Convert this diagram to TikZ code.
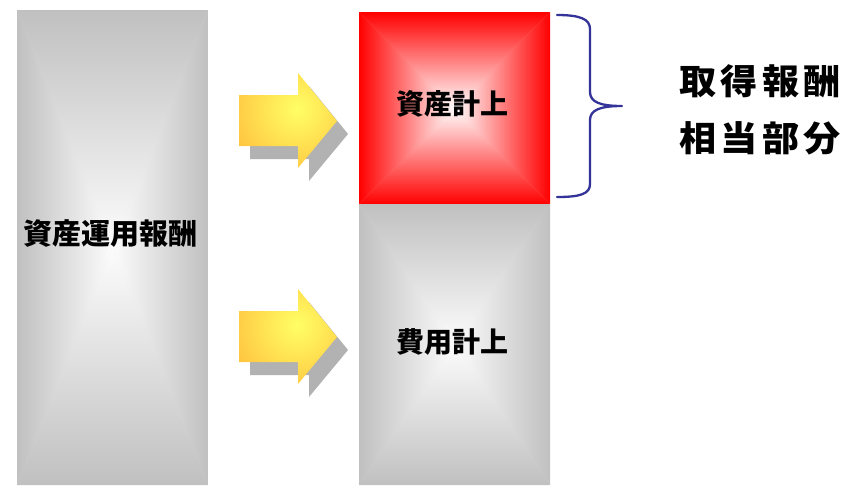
\documentclass[tikz,border=0pt]{standalone}
\usepackage{fontspec}
\newfontfamily\cjk{Noto Sans CJK JP}
\definecolor{edgegray}{RGB}{192,192,192}
\definecolor{centerwhite}{RGB}{252,252,252}
\definecolor{boxred}{RGB}{255,0,0}
\definecolor{arrowyel}{RGB}{255,255,100}
\definecolor{arroworg}{RGB}{255,140,30}
\definecolor{shadowgray}{RGB}{178,178,178}
\definecolor{bracecol}{RGB}{51,51,153}
\newcommand\rectgrad[6]{%
  \pgfmathsetmacro\gcx{(#1+#3)/2}%
  \pgfmathsetmacro\gcy{(#2+#4)/2}%
  \fill[#5!50!#6] (#1,#2) rectangle (#3,#4);
  \shade[top color=#5,bottom color=#6] (#1,#2)--(#3,#2)--(\gcx,\gcy)--cycle;
  \shade[bottom color=#5,top color=#6] (#1,#4)--(#3,#4)--(\gcx,\gcy)--cycle;
  \shade[left color=#5,right color=#6] (#1,#2)--(#1,#4)--(\gcx,\gcy)--cycle;
  \shade[right color=#5,left color=#6] (#3,#2)--(#3,#4)--(\gcx,\gcy)--cycle;
}
\newcommand\arrowshape{(0,22)--(59,22)--(59,0)--(98,48)--(59,95)--(59,73)--(0,73)--cycle}
\newcommand\yelarrow[2]{%
  \begin{scope}[shift={(#1+11,#2+13)}]
    \fill[shadowgray] \arrowshape;
  \end{scope}
  \begin{scope}[shift={(#1,#2)}]
    \begin{scope}
      \clip \arrowshape;
      \shade[inner color=arrowyel,outer color=arroworg] (58,36) circle (136);
    \end{scope}
  \end{scope}
}
\tikzset{
  lbl/.style={font=\cjk\bfseries\fontsize{28}{30}\selectfont, inner sep=0pt, text=black},
  biglbl/.style={font=\cjk\bfseries\fontsize{35}{36}\selectfont, inner sep=0pt, text=black, xscale=1.06},
  bracestyle/.style={draw=bracecol, line width=2.3pt, line cap=round, line join=round}
}
\begin{document}
\begin{tikzpicture}[x=1pt,y=-1pt]
  \useasboundingbox (0,0) rectangle (850,485);
  % left bar
  \rectgrad{17}{10}{208}{485}{edgegray}{centerwhite}
  % red box
  \rectgrad{359}{12}{550}{204}{boxred}{white}
  % gray box below
  \rectgrad{359}{204}{550}{485}{edgegray}{centerwhite}
  % arrows
  \yelarrow{239}{73}
  \yelarrow{239}{289}
  % labels
  \node[lbl, font=\cjk\bfseries\fontsize{29}{30}\selectfont] (income) at (110,234) {資産運用報酬};
  \node[lbl] (asset) at (452,104) {資産計上};
  \node[lbl] (expense) at (452,342) {費用計上};
  \node[biglbl] (acq1) at (760,81) {取\hspace{4pt}得\hspace{4pt}報\hspace{4pt}酬};
  \node[biglbl] (acq2) at (760,138) {相\hspace{4pt}当\hspace{4pt}部\hspace{4pt}分};
  % brace
  \coordinate (btop) at (557,15);
  \coordinate (bmid) at (622,106);
  \coordinate (bbot) at (557,197);
  \draw[bracestyle] (btop) .. controls (580,15) and (590,19) .. (590,29)
    -- (590,92) .. controls (590,102) and (600,106) .. (bmid)
    .. controls (600,106) and (590,110) .. (590,120)
    -- (590,184) .. controls (590,194) and (580,197) .. (bbot);
\end{tikzpicture}
\end{document}
